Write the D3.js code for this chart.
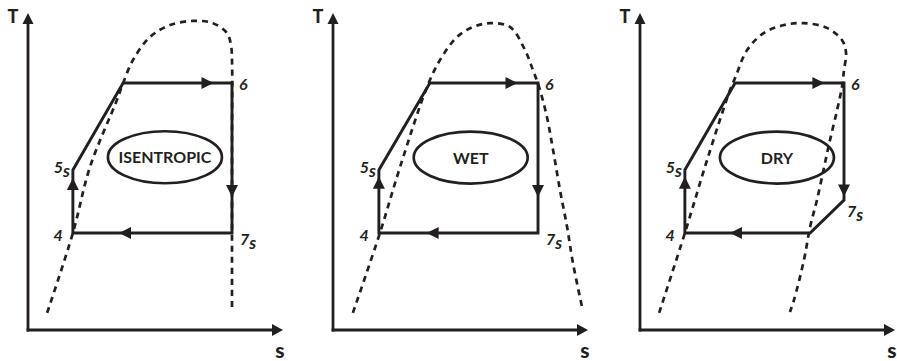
<!DOCTYPE html>
<html>
<head>
<meta charset="utf-8">
<script src="https://cdn.jsdelivr.net/npm/d3@7"></script>
<style>
  body { margin: 0; background: #fff; }
  svg { display: block; }
</style>
</head>
<body>
<svg id="chart" width="897" height="361"></svg>
<script>
// ---- Data: T-s diagrams of an ORC cycle for three working-fluid types ----
// s and T are in relative units (0-100 along each axis).
const panelNames = ["ISENTROPIC", "WET", "DRY"];

// Cycle state points (4 -> 5s -> saturated liquid -> 6 -> 7s [-> ...] -> 4)
const cycleIsentropic = [
  { label: "4",  sub: "",  s: 17.6, T: 30.6 },
  { label: "5",  sub: "s", s: 17.6, T: 50.5 },
  { label: "",   sub: "",  s: 37.3, T: 77.9 },
  { label: "6",  sub: "",  s: 80.0, T: 77.9 },
  { label: "7",  sub: "s", s: 80.0, T: 30.6 }
];
const cycleWet = [
  { label: "4",  sub: "",  s: 18.0, T: 30.6 },
  { label: "5",  sub: "s", s: 18.0, T: 50.5 },
  { label: "",   sub: "",  s: 38.0, T: 77.9 },
  { label: "6",  sub: "",  s: 80.4, T: 77.9 },
  { label: "7",  sub: "s", s: 80.4, T: 30.6 }
];
const cycleDry = [
  { label: "4",  sub: "",  s: 17.6, T: 30.6 },
  { label: "5",  sub: "s", s: 17.6, T: 50.5 },
  { label: "",   sub: "",  s: 37.3, T: 77.9 },
  { label: "6",  sub: "",  s: 80.0, T: 77.9 },
  { label: "7",  sub: "s", s: 80.0, T: 41.0 },
  { label: "",   sub: "",  s: 66.7, T: 30.6 }
];

// Saturation dome of each fluid, [s, T]
const domeIsentropic = [
  [7.5, 5.4], [17.6, 30.6], [24.3, 51.4], [34.9, 72.6], [37.3, 77.9],
  [41.2, 85.2], [47.8, 92.4], [55.7, 96.2], [64.7, 97.5], [72.5, 96.8],
  [78.0, 93.7], [79.6, 89.9], [80.0, 85.2], [80.0, 60.0], [80.0, 6.3]
];
const domeWet = [
  [7.8, 5.4], [18.4, 30.6], [26.3, 51.4], [36.9, 76.7], [42.0, 85.2],
  [48.6, 92.4], [54.9, 95.6], [61.6, 96.8], [69.4, 95.6], [75.3, 88.3],
  [78.4, 82.0], [80.8, 76.7], [83.9, 67.2], [86.3, 56.8], [89.0, 44.2],
  [91.8, 32.5], [94.1, 21.1], [98.0, 6.0]
];
const domeDry = [
  [7.5, 5.4], [17.6, 30.6], [26.3, 53.6], [35.3, 75.7], [37.3, 79.5],
  [42.0, 88.3], [48.6, 93.7], [56.5, 96.2], [64.3, 96.8], [73.3, 95.3],
  [79.2, 91.5], [80.8, 87.4], [80.0, 82.0], [79.2, 76.7], [77.3, 69.4],
  [74.5, 59.9], [72.2, 51.4], [69.4, 41.0], [66.7, 32.5], [64.3, 22.1],
  [60.4, 9.5], [58.8, 5.7]
];

// Fluid-type label centre, [s, T]
const labelCentres = [[53.7, 54.5], [54.0, 54.4], [53.7, 54.4]];

const axisLabels = { x: "s", y: "T" };

// ---- Layout & style ----
const INK = "#231f20";
const FONT = "Lato, 'Open Sans', sans-serif";
const panelX = [28, 333, 640];

// Arrow tip position along each cycle segment (null = no arrow)
const arrowAt = [
  [0.87, null, 0.83, 0.76, 0.71],
  [0.89, null, 0.81, 0.76, 0.70],
  [0.89, null, 0.82, 0.97, null, 0.64]
];

// State-label placement relative to the point
const labelPlacement = {
  "4": { anchor: "end",   dx: -10, dy: 8 },
  "5": { anchor: "end",   dx: -3,  dy: 3 },
  "6": { anchor: "start", dx: 7,   dy: 7 },
  "7": { anchor: "start", dx: 8,   dy: 12 }
};
const labelPlacementDry7 = { anchor: "start", dx: 3, dy: 17 };

const panels = [
  { name: panelNames[0], cycle: cycleIsentropic, dome: domeIsentropic },
  { name: panelNames[1], cycle: cycleWet,        dome: domeWet },
  { name: panelNames[2], cycle: cycleDry,        dome: domeDry }
];

const x = d3.scaleLinear().domain([0, 100]).range([0, 255]);
const y = d3.scaleLinear().domain([0, 100]).range([330, 13]);

const svg = d3.select("#chart");
svg.append("rect").attr("width", 897).attr("height", 361).attr("fill", "#fff");

function arrowHead(g, x1, y1, x2, y2, frac, len, half) {
  const dx = x2 - x1, dy = y2 - y1;
  const L = Math.hypot(dx, dy);
  const ux = dx / L, uy = dy / L;
  const tx = x1 + dx * frac, ty = y1 + dy * frac;
  const bx = tx - ux * len, by = ty - uy * len;
  const pts = [[tx, ty], [bx - uy * half, by + ux * half], [bx + uy * half, by - ux * half]];
  g.append("path")
    .attr("d", "M" + pts.map(p => p.join(",")).join("L") + "Z")
    .attr("fill", INK);
}

panels.forEach((p, i) => {
  const g = svg.append("g").attr("transform", `translate(${panelX[i]},0)`);

  // Axes with arrowheads
  const axisLen = 11;
  g.append("line")
    .attr("x1", x(0)).attr("y1", y(0))
    .attr("x2", x(0)).attr("y2", y(100) + axisLen)
    .attr("stroke", INK).attr("stroke-width", 2.8).attr("stroke-linecap", "square");
  g.append("line")
    .attr("x1", x(0)).attr("y1", y(0))
    .attr("x2", x(100) - axisLen).attr("y2", y(0))
    .attr("stroke", INK).attr("stroke-width", 2.8).attr("stroke-linecap", "square");
  arrowHead(g, x(0), y(0), x(0), y(100), 1, axisLen, 5.5);
  arrowHead(g, x(0), y(0), x(100), y(0), 1, axisLen, 6);

  g.append("text").text(axisLabels.y)
    .attr("x", x(0) - 15).attr("y", 23)
    .attr("text-anchor", "middle")
    .attr("font-family", FONT).attr("font-weight", 900).attr("font-size", 18)
    .attr("fill", INK);
  g.append("text").text(axisLabels.x)
    .attr("x", x(100) - 3).attr("y", 358)
    .attr("text-anchor", "middle")
    .attr("font-family", FONT).attr("font-weight", 900).attr("font-size", 21)
    .attr("fill", INK);

  // Saturation dome (dashed)
  const domeLine = d3.line()
    .x(d => x(d[0])).y(d => y(d[1]))
    .curve(d3.curveCatmullRom.alpha(0.5));
  g.append("path")
    .attr("d", domeLine(p.dome))
    .attr("fill", "none")
    .attr("stroke", INK).attr("stroke-width", 2.7)
    .attr("stroke-dasharray", "6,5");

  // Cycle
  const pts = p.cycle.map(d => [x(d.s), y(d.T)]);
  g.append("path")
    .attr("d", d3.line()(pts) + "Z")
    .attr("fill", "none")
    .attr("stroke", INK).attr("stroke-width", 2.9)
    .attr("stroke-linejoin", "miter");

  arrowAt[i].forEach((f, k) => {
    if (f == null) return;
    const a = pts[k], b = pts[(k + 1) % pts.length];
    arrowHead(g, a[0], a[1], b[0], b[1], f, 12, 6);
  });

  // State labels
  p.cycle.forEach(d => {
    if (!d.label) return;
    let pl = labelPlacement[d.label];
    if (i === 2 && d.label === "7") pl = labelPlacementDry7;
    const t = g.append("text")
      .attr("x", x(d.s) + pl.dx).attr("y", y(d.T) + pl.dy)
      .attr("text-anchor", pl.anchor)
      .attr("font-family", FONT).attr("font-weight", 700)
      .attr("font-style", "italic").attr("font-size", 16)
      .attr("fill", INK);
    t.append("tspan").text(d.label);
    if (d.sub) {
      t.append("tspan").text(d.sub).attr("dy", 4).attr("font-size", 17);
    }
  });

  // Fluid-type label in an ellipse
  const c = labelCentres[i];
  g.append("ellipse")
    .attr("cx", x(c[0])).attr("cy", y(c[1]))
    .attr("rx", 57).attr("ry", 26)
    .attr("fill", "none")
    .attr("stroke", INK).attr("stroke-width", 2.7);
  g.append("text").text(p.name)
    .attr("x", x(c[0])).attr("y", y(c[1]) + 6)
    .attr("text-anchor", "middle")
    .attr("font-family", FONT).attr("font-weight", 700).attr("font-size", 16)
    .attr("fill", INK);
});
</script>
</body>
</html>
